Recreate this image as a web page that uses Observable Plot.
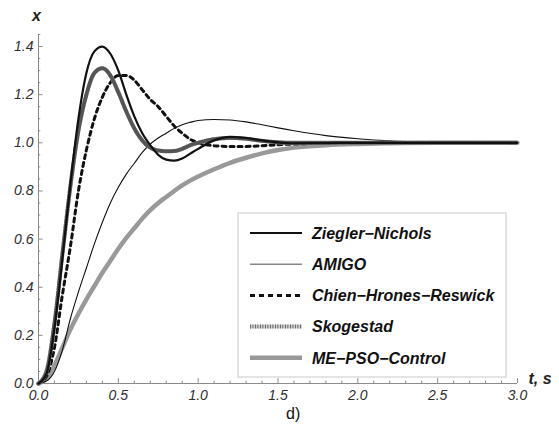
<!DOCTYPE html>
<html>
<head>
<meta charset="utf-8">
<script src="https://cdn.jsdelivr.net/npm/d3@7"></script>
<script src="https://cdn.jsdelivr.net/npm/@observablehq/plot@0.6"></script>
<style>
  html, body { margin: 0; padding: 0; background: #fff; }
  #wrap { width: 559px; position: relative; }
  #caption { position: relative; height: 24px; font-family: "Liberation Sans", Arial, sans-serif; font-size: 16px; color: #111; }
  #caption span { position: absolute; left: 286px; top: 1px; }
</style>
</head>
<body>
<div id="wrap"></div>
<div id="caption"><span>d)</span></div>
<script>
// time grid (s)
const t = [0, 0.05, 0.1, 0.15, 0.2, 0.25, 0.3, 0.35, 0.4, 0.45, 0.5, 0.55, 0.6, 0.65, 0.7, 0.75, 0.8, 0.85, 0.9, 0.95, 1.0, 1.1, 1.2, 1.3, 1.4, 1.5, 1.6, 1.8, 2.0, 2.2, 2.5, 2.8, 3.0];

// step responses x(t)
const zieglerNichols = [0, 0.04, 0.23, 0.52, 0.83, 1.10, 1.29, 1.38, 1.40, 1.37, 1.30, 1.20, 1.11, 1.04, 0.99, 0.95, 0.93, 0.926, 0.935, 0.955, 0.975, 1.01, 1.025, 1.02, 1.01, 1.002, 0.998, 0.999, 1.0, 1.0, 1.0, 1.0, 1.0];
const amigo = [0, 0.01, 0.05, 0.14, 0.27, 0.38, 0.48, 0.58, 0.67, 0.75, 0.815, 0.87, 0.915, 0.96, 0.995, 1.02, 1.04, 1.06, 1.075, 1.085, 1.093, 1.097, 1.095, 1.087, 1.075, 1.062, 1.05, 1.03, 1.017, 1.008, 1.002, 1.0, 1.0];
const chienHronesReswick = [0, 0.03, 0.15, 0.37, 0.57, 0.80, 0.97, 1.10, 1.19, 1.25, 1.28, 1.28, 1.26, 1.22, 1.18, 1.15, 1.11, 1.07, 1.04, 1.015, 1.0, 0.988, 0.985, 0.985, 0.988, 0.992, 0.995, 0.998, 1.0, 1.0, 1.0, 1.0, 1.0];
const skogestad = [0, 0.05, 0.25, 0.54, 0.82, 1.05, 1.20, 1.29, 1.31, 1.28, 1.21, 1.13, 1.06, 1.01, 0.98, 0.968, 0.965, 0.966, 0.975, 0.99, 1.0, 1.015, 1.02, 1.017, 1.008, 1.002, 1.0, 1.0, 1.0, 1.0, 1.0, 1.0, 1.0];
const mePsoControl = [0, 0.02, 0.075, 0.15, 0.225, 0.29, 0.35, 0.405, 0.46, 0.51, 0.56, 0.605, 0.645, 0.685, 0.72, 0.75, 0.775, 0.80, 0.823, 0.843, 0.86, 0.89, 0.917, 0.938, 0.956, 0.97, 0.98, 0.99, 0.995, 0.998, 1.0, 1.0, 1.0];

const seriesNames = ["Ziegler−Nichols", "AMIGO", "Chien−Hrones−Reswick", "Skogestad", "ME−PSO−Control"];

// axis ticks
const xTicks = [0, 0.5, 1.0, 1.5, 2.0, 2.5, 3.0];
const yTicks = [0, 0.2, 0.4, 0.6, 0.8, 1.0, 1.2, 1.4];
const xMinor = d3.range(0, 3.0001, 0.1).map(v => +v.toFixed(2)).filter(v => !xTicks.some(m => Math.abs(m - v) < 1e-6));
const yMinor = d3.range(0, 1.4501, 0.05).map(v => +v.toFixed(2)).filter(v => !yTicks.some(m => Math.abs(m - v) < 1e-6));

const toRows = (vals, name) => t.map((tt, i) => ({t: tt, x: vals[i], series: name}));
const rowsZN = toRows(zieglerNichols, seriesNames[0]);
const rowsAM = toRows(amigo, seriesNames[1]);
const rowsCHR = toRows(chienHronesReswick, seriesNames[2]);
const rowsSK = toRows(skogestad, seriesNames[3]);
const rowsME = toRows(mePsoControl, seriesNames[4]);

const font = "'Liberation Sans', Arial, sans-serif";

const chart = Plot.plot({
  width: 559,
  height: 404,
  marginLeft: 38,
  marginRight: 42,
  marginTop: 34,
  marginBottom: 21,
  x: {domain: [0, 3]},
  y: {domain: [0, 1.45]},
  style: {fontFamily: font, background: "white", overflow: "visible"},
  marks: [
    Plot.ruleY([0], {stroke: "#8a8a8a", strokeWidth: 1}),
    Plot.ruleX([0], {stroke: "#8a8a8a", strokeWidth: 1}),
    Plot.ruleX(xTicks, {x: d => d, y1: 0, y2: 0.02, stroke: "#8a8a8a"}),
    Plot.ruleX(xMinor, {x: d => d, y1: 0, y2: 0.01, stroke: "#8a8a8a"}),
    Plot.ruleY(yTicks, {y: d => d, x1: 0, x2: 0.028, stroke: "#8a8a8a"}),
    Plot.ruleY(yMinor, {y: d => d, x1: 0, x2: 0.014, stroke: "#8a8a8a"}),
    Plot.axisX({ticks: xTicks, tickSize: 0, tickPadding: 7, tickFormat: d => d.toFixed(1), fontStyle: "italic", fontSize: 14, fill: "#2e2e2e", label: null}),
    Plot.axisY({ticks: yTicks, tickSize: 0, tickPadding: 5, tickFormat: d => d.toFixed(1), fontStyle: "italic", fontSize: 14, fill: "#2e2e2e", label: null}),
    Plot.line(rowsME, {x: "t", y: "x", stroke: "#999", strokeWidth: 4.5, curve: "monotone-x"}),
    Plot.line(rowsAM, {x: "t", y: "x", stroke: "#111", strokeWidth: 1.1, curve: "monotone-x"}),
    Plot.line(rowsCHR, {x: "t", y: "x", stroke: "#111", strokeWidth: 3, strokeDasharray: "4,4", curve: "monotone-x"}),
    Plot.line(rowsSK, {x: "t", y: "x", stroke: "#cfcfcf", strokeWidth: 4, curve: "monotone-x"}),
    Plot.line(rowsSK, {x: "t", y: "x", stroke: "#555", strokeWidth: 4, strokeDasharray: "0.8,1.7", curve: "monotone-x"}),
    Plot.line(rowsZN, {x: "t", y: "x", stroke: "#111", strokeWidth: 2.2, curve: "monotone-x"}),
    Plot.text(["x"], {frameAnchor: "top-left", dx: -2, dy: -19, text: d => d, textAnchor: "middle", lineAnchor: "middle", fontSize: 16, fontWeight: "bold", fontStyle: "italic", fill: "#222"}),
    Plot.text(["t, s"], {frameAnchor: "bottom-right", dx: 11, dy: -5, text: d => d, textAnchor: "start", lineAnchor: "middle", fontSize: 16, fontWeight: "bold", fontStyle: "italic", fill: "#222"})
  ]
});

// legend (inside the plot, lower right)
const svg = d3.select(chart);
const lg = svg.append("g").attr("transform", "translate(238,213)").attr("text-anchor", "start");
lg.append("rect").attr("width", 268).attr("height", 164).attr("fill", "white").attr("stroke", "#c8c8c8").attr("stroke-width", 1);
const legendStyles = [
  [{stroke: "#111", w: 2.2}],
  [{stroke: "#888", w: 1.6}],
  [{stroke: "#111", w: 3, dash: "5,4"}],
  [{stroke: "#cfcfcf", w: 4}, {stroke: "#555", w: 4, dash: "0.8,1.7"}],
  [{stroke: "#999", w: 4.5}]
];
seriesNames.forEach((name, i) => {
  const y = 20 + i * 31.2;
  legendStyles[i].forEach(s => {
    const l = lg.append("line").attr("x1", 12).attr("x2", 64).attr("y1", y).attr("y2", y)
      .attr("stroke", s.stroke).attr("stroke-width", s.w);
    if (s.dash) l.attr("stroke-dasharray", s.dash);
  });
  lg.append("text").attr("x", 74).attr("y", y).attr("dy", "0.36em")
    .attr("text-anchor", "start")
    .attr("font-family", font).attr("font-size", 16).attr("font-weight", "bold").attr("font-style", "italic")
    .attr("fill", "#111").text(name);
});

document.getElementById("wrap").appendChild(chart);
</script>
</body>
</html>
